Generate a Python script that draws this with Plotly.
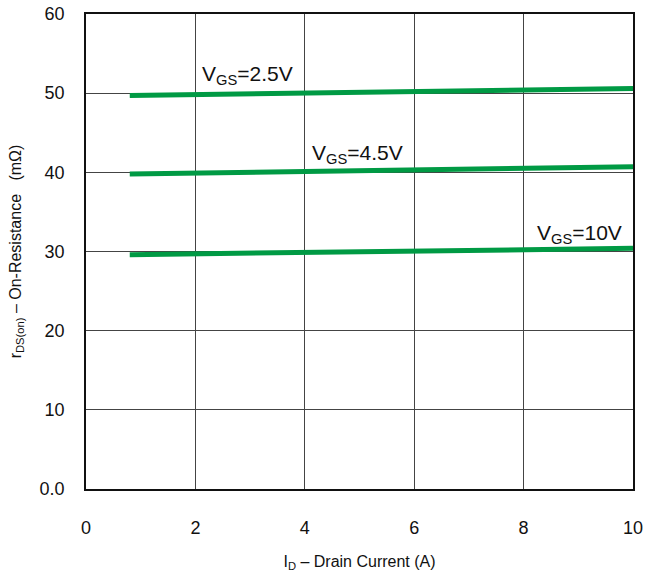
import plotly.graph_objects as go

# Data
id_current = [0.8, 10.0]
vgs_labels = ["2.5V", "4.5V", "10V"]
rds_25 = [49.7, 50.6]
rds_45 = [39.8, 40.7]
rds_10 = [29.6, 30.4]
label_x = [2.08, 4.1, 8.2]
label_y = [52.3, 42.3, 32.2]

x_ticks = [0, 2, 4, 6, 8, 10]
x_ticktext = ["0", "2", "4", "6", "8", "10"]
y_ticks = [0, 10, 20, 30, 40, 50, 60]
y_ticktext = ["0.0", "10", "20", "30", "40", "50", "60"]

green = "#009a44"
font = "Liberation Sans, Arial, sans-serif"

fig = go.Figure()
for ys in [rds_25, rds_45, rds_10]:
    fig.add_trace(go.Scatter(x=id_current, y=ys, mode="lines",
                             line=dict(color=green, width=5), showlegend=False))

for lx, ly, lab in zip(label_x, label_y, vgs_labels):
    fig.add_annotation(x=lx, y=ly, text="V<sub>GS</sub>=" + lab, showarrow=False,
                       xanchor="left", yanchor="middle",
                       font=dict(family=font, size=21, color="#111"))

fig.update_layout(
    width=646, height=572,
    margin=dict(l=86, r=13, t=14, b=83, autoexpand=False),
    paper_bgcolor="white", plot_bgcolor="white",
    font=dict(family=font, color="#111"),
    xaxis=dict(range=[0, 10], tickvals=x_ticks, ticktext=x_ticktext,
               showgrid=True, gridcolor="#444", gridwidth=1,
               showline=True, linecolor="#111", linewidth=1.5, mirror=True,
               zeroline=False, ticks="", ticklabelstandoff=22,
               ticklabeloverflow="allow",
               tickfont=dict(size=18), automargin=False,
               title=dict(text="I<sub>D</sub> – Drain Current (A)",
                          font=dict(size=16), standoff=26)),
    yaxis=dict(range=[0, 60], tickvals=y_ticks, ticktext=y_ticktext,
               showgrid=True, gridcolor="#444", gridwidth=1,
               showline=True, linecolor="#111", linewidth=1.5, mirror=True,
               zeroline=False, ticks="", ticklabelstandoff=16,
               ticklabeloverflow="allow",
               tickfont=dict(size=18), automargin=False,
               title=dict(text="r<sub>DS(on)</sub> – On-Resistance   (mΩ)",
                          font=dict(size=16), standoff=14)),
)

fig.write_html("out.html", config={"displayModeBar": False},
               post_script="document.body.style.margin='0';document.body.style.overflow='hidden';")
